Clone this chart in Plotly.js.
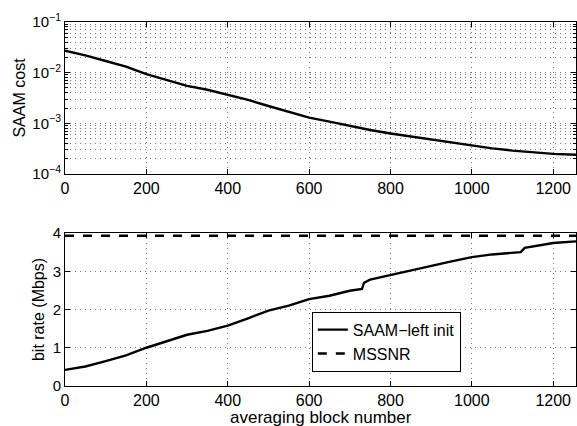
<!DOCTYPE html>
<html>
<head>
<meta charset="utf-8">
<script src="https://cdn.plot.ly/plotly-3.0.1.min.js"></script>
<style>html,body{margin:0;padding:0;background:#fff;}#chart{width:577px;height:426px;}</style>
</head>
<body>
<div id="chart"></div>
<script>
const xCost = [0,50,100,150,200,250,300,350,400,450,500,550,600,650,700,750,800,850,900,950,1000,1050,1100,1150,1200,1256];
const costSAAM = [0.0272,0.022,0.017,0.0132,0.0094,0.0072,0.0055,0.0046,0.0037,0.0029,0.0022,0.0017,0.0013,0.00108,0.00089,0.00074,0.00063,0.00055,0.00047,0.00041,0.00036,0.00032,0.00029,0.00027,0.00025,0.00024];
const xRate = [0,50,100,150,200,250,300,350,400,450,500,550,600,650,700,730,735,750,800,850,900,950,1000,1050,1120,1130,1200,1256];
const rateSAAM = [0.42,0.51,0.65,0.8,1.0,1.16,1.34,1.44,1.58,1.77,1.97,2.1,2.27,2.36,2.49,2.54,2.7,2.78,2.9,3.04,3.15,3.26,3.37,3.44,3.5,3.61,3.74,3.78];
const xMSSNR = [0,1256];
const rateMSSNR = [3.93,3.93];
const costTickVals = [1e-4,1e-3,1e-2,1e-1];
const costTickText = ['10<sup>\u22124</sup>','10<sup>\u22123</sup>','10<sup>\u22122</sup>','10<sup>\u22121</sup>'];
const xTickVals = [0,200,400,600,800,1000,1200];
const rateTickVals = [0,1,2,3,4];
const seriesNames = ['SAAM\u2212left init','MSSNR'];
const xTitle = 'averaging block number';

const FAM = 'Liberation Sans, Arial, sans-serif';
const F = {family:FAM, size:16, color:'#000'};
const FY = {family:FAM, size:15, color:'#000'};
const gridC = '#777';
const gdash = '1px,4px';

const traces = [
  {x:xCost, y:costSAAM, xaxis:'x', yaxis:'y', mode:'lines', line:{color:'#000', width:2.4}, showlegend:false},
  {x:xRate, y:rateSAAM, xaxis:'x2', yaxis:'y2', mode:'lines', line:{color:'#000', width:2.4}, name:seriesNames[0]},
  {x:xMSSNR, y:rateMSSNR, xaxis:'x2', yaxis:'y2', mode:'lines', line:{color:'#000', width:2.4, dash:'dash'}, name:seriesNames[1]}
];

const xCommon = {range:[0,1256], tickvals:xTickVals, showline:true, linecolor:'#000', linewidth:1, mirror:'ticks',
  ticks:'inside', ticklen:5, tickcolor:'#000', showgrid:true, gridcolor:gridC, griddash:gdash, gridwidth:1, zeroline:false, tickfont:F};

const layout = {
  width:577, height:426, margin:{l:65, r:1, t:22, b:40},
  paper_bgcolor:'#fff', plot_bgcolor:'#fff', font:F,
  xaxis: Object.assign({}, xCommon, {domain:[0,1], anchor:'y'}),
  yaxis: {type:'log', range:[-4,-1], domain:[0.5824,1], anchor:'x', tickvals:costTickVals, ticktext:costTickText,
    showline:true, linecolor:'#000', linewidth:1, mirror:'ticks', ticks:'inside', ticklen:5, tickcolor:'#000',
    showgrid:true, gridcolor:gridC, griddash:gdash, zeroline:false, tickfont:FY,
    minor:{dtick:'D1', showgrid:true, gridcolor:gridC, griddash:gdash, ticks:'inside', ticklen:3, tickcolor:'#000'},
    title:{text:'SAAM cost', font:F, standoff:2}},
  xaxis2: Object.assign({}, xCommon, {domain:[0,1], anchor:'y2'}),
  yaxis2: {range:[0,4], domain:[0,0.4203], anchor:'x2', tickvals:rateTickVals,
    showline:true, linecolor:'#000', linewidth:1, mirror:'ticks', ticks:'inside', ticklen:5, tickcolor:'#000',
    showgrid:true, gridcolor:gridC, griddash:gdash, zeroline:false, tickfont:FY,
    title:{text:'bit rate (Mbps)', font:F, standoff:4}},
  annotations:[{text:xTitle, xref:'paper', yref:'paper', x:0.5, y:-0.087, xanchor:'center', yanchor:'middle',
    showarrow:false, font:{family:FAM, size:17, color:'#000'}}],
  legend:{x:0.483, y:0.204, xanchor:'left', yanchor:'top', bgcolor:'#fff', bordercolor:'#000', borderwidth:1,
    font:{family:FAM, size:16, color:'#000'}, tracegroupgap:0},
  showlegend:true
};

Plotly.newPlot('chart', traces, layout, {displayModeBar:false, staticPlot:true});
</script>
</body>
</html>
